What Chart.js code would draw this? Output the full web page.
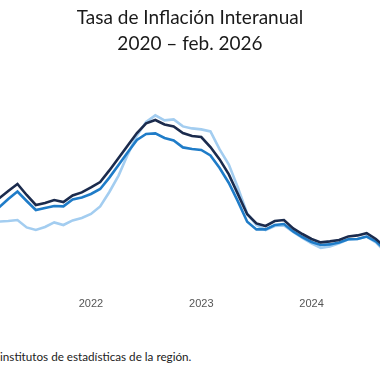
<!DOCTYPE html>
<html>
<head>
<meta charset="utf-8">
<script src="https://cdn.jsdelivr.net/npm/chart.js@4/dist/chart.umd.min.js"></script>
<style>
  html, body { margin: 0; padding: 0; background: #fff; }
  #wrap { position: relative; width: 380px; height: 380px; overflow: hidden; }
  #title { position: absolute; left: 0; top: 4px; width: 380px; text-align: center;
           font-family: "Lato", sans-serif; font-size: 19px; font-weight: 400; line-height: 26px; color: #1a1a1a; }
  #chartBox { position: absolute; left: 0; top: 0; width: 380px; height: 315px; }
  #note { position: absolute; left: 0; top: 349px; font-family: "Lato", sans-serif; font-size: 11.7px; color: #222; white-space: nowrap; }
</style>
</head>
<body>
<div id="wrap">
  <div id="chartBox"><canvas id="c"></canvas></div>
  <div id="title">Tasa de Inflación Interanual<br>2020 – feb. 2026</div>
  <div id="note">institutos de estadísticas de la región.</div>
</div>
<script>
// Months from 2021-01 to 2024-09 (index 12 = Jan 2021, counted from Jan 2020)
const firstMonthIndex = 12;
const months = ['2021-01','2021-02','2021-03','2021-04','2021-05','2021-06','2021-07','2021-08','2021-09','2021-10','2021-11','2021-12',
                '2022-01','2022-02','2022-03','2022-04','2022-05','2022-06','2022-07','2022-08','2022-09','2022-10','2022-11','2022-12',
                '2023-01','2023-02','2023-03','2023-04','2023-05','2023-06','2023-07','2023-08','2023-09','2023-10','2023-11','2023-12',
                '2024-01','2024-02','2024-03','2024-04','2024-05','2024-06','2024-07','2024-08','2024-09'];

const serieOscura = [4.25,4.40,4.58,4.95,5.30,4.75,4.25,4.35,4.50,4.40,4.73,4.88,
                     5.13,5.40,5.98,6.60,7.23,7.85,8.33,8.50,8.28,8.18,7.85,7.70,
                     7.65,7.15,6.53,5.78,4.78,3.79,3.33,3.20,3.45,3.50,3.08,2.80,
                     2.55,2.38,2.43,2.50,2.68,2.73,2.84,2.55,2.15];
const serieMedia  = [3.90,4.00,4.13,4.55,4.92,4.45,4.00,4.10,4.20,4.18,4.53,4.63,
                     4.80,5.05,5.62,6.25,6.89,7.50,7.80,7.83,7.60,7.48,7.13,7.05,
                     7.00,6.73,6.10,5.35,4.42,3.41,3.03,3.03,3.25,3.30,2.93,2.65,
                     2.40,2.25,2.28,2.38,2.54,2.55,2.67,2.43,2.00];
const serieClara  = [3.40,3.40,3.42,3.45,3.50,3.13,3.00,3.15,3.38,3.25,3.48,3.60,
                     3.80,4.18,4.90,5.72,6.77,7.73,8.40,8.73,8.48,8.53,8.18,8.08,
                     8.03,7.93,7.03,6.27,5.10,3.82,3.25,3.00,3.20,3.23,2.90,2.60,
                     2.33,2.10,2.18,2.33,2.53,2.55,2.67,2.38,1.90];

const tickValues = [24, 36, 48];
const tickLabels = ['2022', '2023', '2024'];

const toPoints = arr => arr.map((v, i) => ({ x: firstMonthIndex + i, y: v }));

new Chart(document.getElementById('c'), {
  type: 'line',
  data: {
    datasets: [
      { data: toPoints(serieOscura), borderColor: '#1b2b4d', borderWidth: 2.6, pointRadius: 0, tension: 0 },
      { data: toPoints(serieMedia),  borderColor: '#1f7cc8', borderWidth: 2.6, pointRadius: 0, tension: 0 },
      { data: toPoints(serieClara),  borderColor: '#a3cdf0', borderWidth: 2.6, pointRadius: 0, tension: 0 }
    ]
  },
  options: {
    responsive: true,
    maintainAspectRatio: false,
    devicePixelRatio: 1,
    animation: false,
    layout: { padding: 0 },
    plugins: { legend: { display: false }, tooltip: { enabled: false }, title: { display: false } },
    scales: {
      x: {
        type: 'linear',
        min: 14.10,
        max: 55.45,
        grid: { display: false, drawTicks: false },
        border: { display: false },
        afterBuildTicks: s => { s.ticks = tickValues.map(v => ({ value: v })); },
        afterFit: s => { s.height = 25; },
        ticks: {
          autoSkip: false,
          maxRotation: 0,
          padding: 7,
          color: '#555',
          font: { family: 'Liberation Sans', size: 11 },
          callback: (v) => { const k = tickValues.indexOf(v); return k >= 0 ? tickLabels[k] : ''; }
        }
      },
      y: { display: false, min: 0, max: 14.5 }
    }
  }
});
</script>
</body>
</html>
